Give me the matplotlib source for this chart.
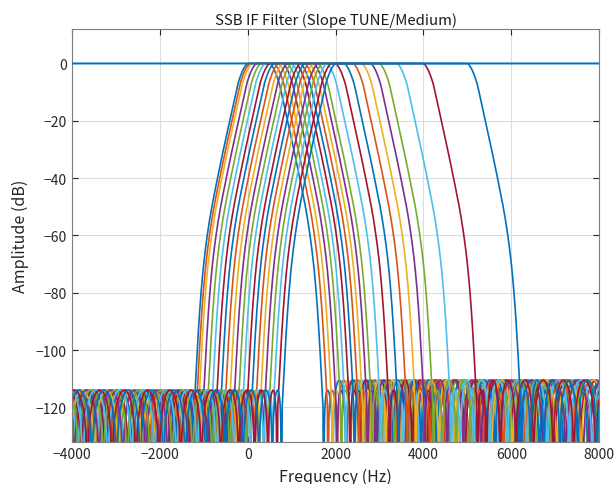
import matplotlib

matplotlib.use("Agg")
import matplotlib.pyplot as plt
import numpy as np

plt.rcParams["font.family"] = ["Noto Sans CJK JP", "DejaVu Sans"]
plt.rcParams["axes.unicode_minus"] = True

# filter settings (Hz)
LOW_CUT = [0, 50, 100, 200, 300, 400, 500, 600, 700, 800, 900,
           1000, 1100, 1200, 1300, 1400, 1500, 1600, 1700, 1800, 1900, 2000]
HIGH_CUT = [500, 600, 700, 800, 900, 1000, 1100, 1200, 1300, 1400, 1500,
            1600, 1800, 2000, 2200, 2400, 2600, 2800, 3000, 3400, 4000, 5000]

# skirt shape: distance outside the cut frequency (Hz) -> level (dB)
SKIRT_OFFSET = [0, 60, 210, 300, 400, 550, 692, 820, 905, 1000, 1080, 1150, 1215]
SKIRT_LEVEL = [0, -1.0, -6.5, -12.5, -19.5, -30, -40.5, -50.5, -58.5, -70, -84, -101, -120]
SKIRT_NULL = 1240  # first stopband null (Hz from the cut frequency)

# stopband ripple peaks (dB)
STOP_PEAK_LOW = -114.0
STOP_PEAK_HIGH_FIRST = -114.0
STOP_PEAK_HIGH = -110.5
LOBE_SCALE = 200.0   # Hz, width of the first stopband lobe
LOBE_POWER = 0.75

MATLAB_COLORS = ["#0072BD", "#D95319", "#EDB120", "#7E2F8E", "#77AC30", "#4DBEEE", "#A2142F"]

X_MIN, X_MAX = -4000, 8000
Y_MIN, Y_MAX = -132, 12


def _pchip(x, y, xq):
    # monotone cubic (Fritsch-Carlson), keeps the skirt free of wiggles
    x = np.asarray(x, float)
    y = np.asarray(y, float)
    h = np.diff(x)
    delta = np.diff(y) / h
    m = np.zeros_like(y)
    for i in range(1, len(x) - 1):
        if delta[i - 1] * delta[i] > 0:
            w1 = 2 * h[i] + h[i - 1]
            w2 = h[i] + 2 * h[i - 1]
            m[i] = (w1 + w2) / (w1 / delta[i - 1] + w2 / delta[i])
    m[0] = 0.0
    m[-1] = delta[-1]
    idx = np.clip(np.searchsorted(x, xq) - 1, 0, len(x) - 2)
    t = (xq - x[idx]) / h[idx]
    h00 = 2 * t ** 3 - 3 * t ** 2 + 1
    h10 = t ** 3 - 2 * t ** 2 + t
    h01 = -2 * t ** 3 + 3 * t ** 2
    h11 = t ** 3 - t ** 2
    return (h00 * y[idx] + h10 * h[idx] * m[idx]
            + h01 * y[idx + 1] + h11 * h[idx] * m[idx + 1])


def skirt(dist, upper_side):
    dist = np.asarray(dist, dtype=float)
    out = np.zeros_like(dist)
    knee = SKIRT_OFFSET[-1]

    mid = (dist > 0) & (dist <= knee)
    out[mid] = np.minimum(_pchip(SKIRT_OFFSET, SKIRT_LEVEL, dist[mid]), 0)

    tail = (dist > knee) & (dist <= SKIRT_NULL)
    out[tail] = np.interp(dist[tail], [knee, SKIRT_NULL], [SKIRT_LEVEL[-1], -220])

    far = dist > SKIRT_NULL
    u = dist[far] - SKIRT_NULL
    phase = (u / LOBE_SCALE) ** LOBE_POWER
    lobes = 20 * np.log10(np.abs(np.sin(np.pi * phase)) + 1e-7)
    if upper_side:
        peak = np.where(phase < 1, STOP_PEAK_HIGH_FIRST, STOP_PEAK_HIGH)
    else:
        peak = STOP_PEAK_LOW
    out[far] = lobes + peak
    return out


def main() -> None:
    freq = np.linspace(X_MIN, X_MAX, 6001)

    fig = plt.figure(figsize=(6.14, 4.85), dpi=100)
    ax = fig.add_axes([0.117, 0.087, 0.859, 0.851])

    for idx, (lo, hi) in enumerate(zip(LOW_CUT, HIGH_CUT)):
        resp = skirt(lo - freq, upper_side=False) + skirt(freq - hi, upper_side=True)
        ax.plot(freq, resp, color=MATLAB_COLORS[idx % 7], linewidth=1.2)

    ax.plot(freq, np.zeros_like(freq), color=MATLAB_COLORS[0], linewidth=1.4, zorder=5)

    ax.set_xlim(X_MIN, X_MAX)
    ax.set_ylim(Y_MIN, Y_MAX)
    ax.set_xticks(np.arange(-4000, 8001, 2000))
    ax.set_yticks(np.arange(-120, 1, 20))
    ax.grid(True, color="#dcdcdc", linewidth=0.8)
    ax.set_axisbelow(True)
    ax.tick_params(direction="in", top=True, right=True, length=4,
                   labelsize=10, color="#262626", labelcolor="#262626")
    for spine in ax.spines.values():
        spine.set_color("#7f7f7f")
        spine.set_linewidth(0.8)

    ax.set_title("SSB IF Filter (Slope TUNE/Medium)", fontsize=10.8, color="#1a1a1a", pad=4)
    ax.set_xlabel("Frequency (Hz)", fontsize=11.5, color="#262626", labelpad=5)
    ax.set_ylabel("Amplitude (dB)", fontsize=11.5, color="#262626", labelpad=5)

    fig.savefig("out.png", dpi=100, facecolor="white")
    plt.close(fig)


if __name__ == "__main__":
    main()
